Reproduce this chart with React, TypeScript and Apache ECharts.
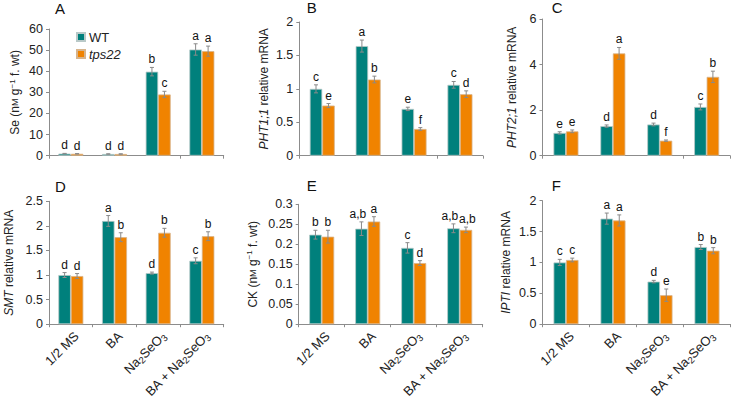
import React, { useEffect, useRef } from "react";
import * as echarts from "echarts";

const categories = ["1/2 MS", "BA", "Na2SeO3", "BA + Na2SeO3"];
const seriesNames = ["WT", "tps22"];

// Panel A: Se
const seWT = [1.0, 0.8, 39.8, 50.3];
const seWTErr = [0.1, 0.1, 2.0, 2.7];
const seTps = [0.9, 0.8, 29.0, 49.5];
const seTpsErr = [0.1, 0.1, 1.5, 2.4];
const seWTLetters = ["d", "d", "b", "a"];
const seTpsLetters = ["d", "d", "c", "a"];

// Panel B: PHT1;1
const pht11WT = [1.0, 1.64, 0.7, 1.06];
const pht11WTErr = [0.06, 0.09, 0.025, 0.05];
const pht11Tps = [0.75, 1.14, 0.4, 0.92];
const pht11TpsErr = [0.03, 0.05, 0.02, 0.05];
const pht11WTLetters = ["c", "a", "e", "c"];
const pht11TpsLetters = ["e", "b", "f", "d"];

// Panel C: PHT2;1
const pht21WT = [1.0, 1.3, 1.37, 2.14];
const pht21WTErr = [0.05, 0.05, 0.06, 0.13];
const pht21Tps = [1.07, 4.49, 0.66, 3.46];
const pht21TpsErr = [0.06, 0.26, 0.03, 0.25];
const pht21WTLetters = ["e", "d", "d", "c"];
const pht21TpsLetters = ["e", "a", "f", "b"];

// Panel D: SMT
const smtWT = [1.0, 2.1, 1.04, 1.29];
const smtWTErr = [0.05, 0.11, 0.02, 0.06];
const smtTps = [0.98, 1.77, 1.86, 1.79];
const smtTpsErr = [0.05, 0.09, 0.09, 0.09];
const smtWTLetters = ["d", "a", "d", "c"];
const smtTpsLetters = ["d", "b", "b", "b"];

// Panel E: CK
const ckWT = [0.224, 0.239, 0.191, 0.24];
const ckWTErr = [0.011, 0.017, 0.013, 0.011];
const ckTps = [0.219, 0.257, 0.153, 0.236];
const ckTpsErr = [0.016, 0.012, 0.006, 0.007];
const ckWTLetters = ["b", "a,b", "c", "a,b"];
const ckTpsLetters = ["b", "a", "d", "a,b"];

// Panel F: IPTI
const iptWT = [1.0, 1.71, 0.69, 1.25];
const iptWTErr = [0.05, 0.09, 0.02, 0.04];
const iptTps = [1.04, 1.68, 0.47, 1.19];
const iptTpsErr = [0.03, 0.09, 0.1, 0.05];
const iptWTLetters = ["c", "a", "d", "b"];
const iptTpsLetters = ["c", "a", "e", "b"];

const panelLetters = ["A", "B", "C", "D", "E", "F"];
const yMax = [60, 2, 6, 2.5, 0.3, 2];
const yInterval = [10, 0.5, 2, 0.5, 0.05, 0.5];
const yNames = [
  "Se (n{sc|M} g{sup|−1} f. wt)",
  "{i|PHT1;1} relative mRNA",
  "{i|PHT2;1} relative mRNA",
  "{i|SMT} relative mRNA",
  "CK (n{sc|M} g{sup|−1} f. wt)",
  "{i|IPTI} relative mRNA",
];

const FONT = "'Liberation Sans', Arial, Helvetica, sans-serif";
const TEAL = "#00807c";
const ORANGE = "#f08300";
const BAR_W = 12.5;

const grids = [
  { left: 49, top: 29, width: 174.7, height: 126.7 },
  { left: 299.3, top: 22, width: 183.6, height: 133.7 },
  { left: 542.5, top: 19, width: 187.6, height: 136.7 },
  { left: 49, top: 201.3, width: 174.7, height: 132 },
  { left: 298.7, top: 204.3, width: 184, height: 129 },
  { left: 542.5, top: 200.7, width: 188, height: 132.6 },
];
const nameGaps = [27, 28, 24, 33, 39, 30];
const panelLetterPos = [
  [55, 9],
  [306.7, 7.5],
  [551.7, 8],
  [55, 187],
  [306.7, 186],
  [551.7, 186],
];

const panels = [
  [seWT, seWTErr, seWTLetters, seTps, seTpsErr, seTpsLetters],
  [pht11WT, pht11WTErr, pht11WTLetters, pht11Tps, pht11TpsErr, pht11TpsLetters],
  [pht21WT, pht21WTErr, pht21WTLetters, pht21Tps, pht21TpsErr, pht21TpsLetters],
  [smtWT, smtWTErr, smtWTLetters, smtTps, smtTpsErr, smtTpsLetters],
  [ckWT, ckWTErr, ckWTLetters, ckTps, ckTpsErr, ckTpsLetters],
  [iptWT, iptWTErr, iptWTLetters, iptTps, iptTpsErr, iptTpsLetters],
];

function catLabel(c: string) {
  return c.replace(/Na2SeO3/g, "Na{sub|2}SeO{sub|3}");
}

function errSeries(p: number, vals: number[], errs: number[], letters: string[], side: number) {
  return {
    type: "custom",
    xAxisIndex: p,
    yAxisIndex: p,
    z: 5,
    silent: true,
    data: vals.map((v, i) => [i, v, errs[i]]),
    renderItem: (params: any, api: any) => {
      const i = api.value(0);
      const v = api.value(1);
      const e = api.value(2);
      const top = api.coord([i, v + e]);
      const bot = api.coord([i, v - e]);
      const x = top[0] + side * (BAR_W / 2);
      const cap = 2;
      const txt = letters[params.dataIndex];
      const shift = txt.length > 1 ? (side < 0 ? -3.5 : 1.5) : 0;
      return {
        type: "group",
        children: [
          { type: "line", shape: { x1: x, y1: top[1], x2: x, y2: bot[1] }, style: { stroke: "#8a8a8a", lineWidth: 1 } },
          { type: "line", shape: { x1: x - cap, y1: top[1], x2: x + cap, y2: top[1] }, style: { stroke: "#8a8a8a", lineWidth: 1 } },
          { type: "line", shape: { x1: x - cap, y1: bot[1], x2: x + cap, y2: bot[1] }, style: { stroke: "#8a8a8a", lineWidth: 1 } },
          {
            type: "text",
            x: x + shift,
            y: top[1] - 2,
            style: {
              text: txt,
              fill: "#111",
              font: `12px ${FONT}`,
              align: "center",
              verticalAlign: "bottom",
            },
          },
        ],
      };
    },
  };
}

export default function App() {
  const ref = useRef<HTMLDivElement>(null);
  useEffect(() => {
    if (!ref.current) return;
    const chart = echarts.init(ref.current, null, { renderer: "svg" });

    const xAxis = grids.map((_, p) => ({
      type: "category",
      gridIndex: p,
      data: categories,
      axisLine: { show: true, lineStyle: { color: "#8c8c8c", width: 1 } },
      axisTick: { show: true, length: 3, lineStyle: { color: "#8c8c8c" } },
      axisLabel:
        p < 3
          ? { show: false }
          : {
              show: true,
              rotate: 45,
              margin: 4,
              interval: 0,
              verticalAlign: "top",
              color: "#222",
              fontFamily: FONT,
              fontSize: 13,
              lineHeight: 16,
              formatter: (v: string) => catLabel(v),
              rich: {
                sub: { fontSize: 9.5, fontFamily: FONT, color: "#222", verticalAlign: "bottom", lineHeight: 16 },
              },
            },
    }));

    const yAxis = grids.map((_, p) => ({
      type: "value",
      gridIndex: p,
      min: 0,
      max: yMax[p],
      interval: yInterval[p],
      splitLine: { show: false },
      axisLine: { show: true, lineStyle: { color: "#8c8c8c", width: 1 } },
      axisTick: { show: true, length: 3, lineStyle: { color: "#8c8c8c" } },
      axisLabel: {
        color: "#222",
        fontFamily: FONT,
        fontSize: 12.5,
        margin: 6,
        formatter: (v: number) => String(+v.toFixed(2)),
      },
      name: yNames[p],
      nameLocation: "middle",
      nameRotate: 90,
      nameGap: nameGaps[p],
      nameTextStyle: {
        color: "#222",
        fontFamily: FONT,
        fontSize: 12,
        lineHeight: 14,
        rich: {
          i: { fontStyle: "italic", fontFamily: FONT, fontSize: 12, color: "#222" },
          sc: { fontFamily: FONT, fontSize: 9, color: "#222" },
          sup: { fontFamily: FONT, fontSize: 8, color: "#222", verticalAlign: "top", lineHeight: 14 },
        },
      },
    }));

    const series: any[] = [];
    panels.forEach((pd, p) => {
      const [wt, wtErr, wtL, tp, tpErr, tpL] = pd as any[];
      series.push({
        type: "bar",
        name: seriesNames[0],
        xAxisIndex: p,
        yAxisIndex: p,
        data: wt,
        barWidth: BAR_W,
        barGap: "0%",
        itemStyle: { color: TEAL, borderColor: "#b9c9c8", borderWidth: 0.8 },
      });
      series.push({
        type: "bar",
        name: seriesNames[1],
        xAxisIndex: p,
        yAxisIndex: p,
        data: tp,
        barWidth: BAR_W,
        barGap: "0%",
        itemStyle: { color: ORANGE, borderColor: "#d7b48c", borderWidth: 0.8 },
      });
      series.push(errSeries(p, wt, wtErr, wtL, -1));
      series.push(errSeries(p, tp, tpErr, tpL, 1));
    });

    chart.setOption({
      animation: false,
      backgroundColor: "#fff",
      textStyle: { fontFamily: FONT },
      grid: grids.map((g) => ({ ...g, containLabel: false })),
      xAxis,
      yAxis,
      legend: {
        data: seriesNames,
        orient: "vertical",
        left: 71,
        top: 25,
        icon: "rect",
        itemWidth: 8,
        itemHeight: 8,
        itemGap: 3,
        selectedMode: false,
        formatter: (n: string) => (n === "tps22" ? "{i|tps22}" : n),
        textStyle: {
          color: "#222",
          fontFamily: FONT,
          fontSize: 13,
          lineHeight: 14,
          padding: [0, 0, 0, -1],
          rich: { i: { fontStyle: "italic", fontFamily: FONT, fontSize: 13, color: "#222" } },
        },
      },
      graphic: panelLetters.map((t, i) => ({
        type: "text",
        left: panelLetterPos[i][0],
        top: panelLetterPos[i][1] - 8,
        style: { text: t, font: `15px ${FONT}`, fill: "#111" },
      })),
      series,
    });
    return () => chart.dispose();
  }, []);
  return (
    <div
      ref={ref}
      style={{ position: "fixed", left: 0, top: 0, width: 731, height: 402, background: "#fff" }}
    />
  );
}
